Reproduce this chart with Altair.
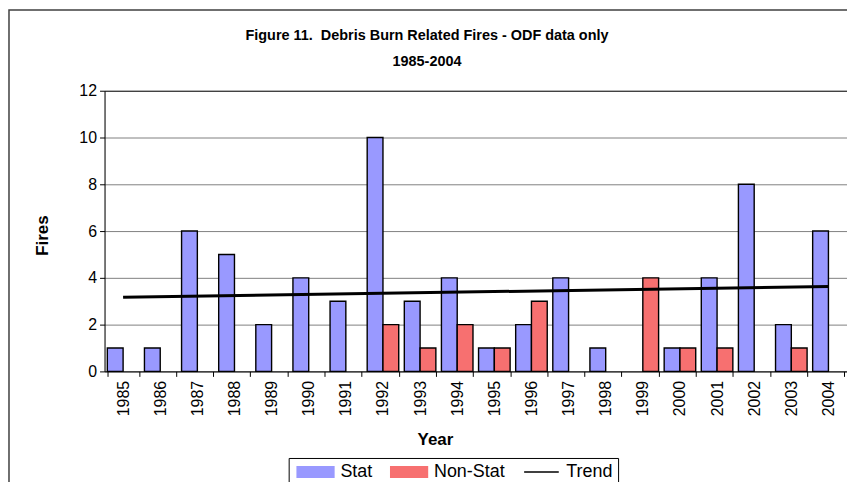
import altair as alt
import pandas as pd

years = list(range(1985, 2005))
stat = [1, 1, 6, 5, 2, 4, 3, 10, 3, 4, 1, 2, 4, 1, 0, 1, 4, 8, 2, 6]
nonstat = [0, 0, 0, 0, 0, 0, 0, 2, 1, 2, 1, 3, 0, 0, 4, 1, 1, 0, 1, 0]
series_names = ["Stat", "Non-Stat", "Trend"]
series_colors = ["#9999FF", "#F77070", "#000000"]
legend_paths = ["M-3.2,-1H3.2V1H-3.2Z", "M-3.2,-1H3.2V1H-3.2Z", "M-2.9,-0.12H2.9V0.12H-2.9Z"]
y_ticks = list(range(0, 13))
title_line1 = ["Figure 11.\u00a0 Debris Burn Related Fires - ODF data only"]
title_line2 = ["1985-2004"]

FONT = "Liberation Sans"

rows = []
for yr, s, n in zip(years, stat, nonstat):
    rows.append({"year": yr, "series": "Stat", "value": s})
    rows.append({"year": yr, "series": "Non-Stat", "value": n})
bars_df = pd.DataFrame(rows)
stat_df = pd.DataFrame({"year": years, "stat": stat})
legend_df = pd.DataFrame({"series": series_names})

fill_scale = alt.Scale(domain=series_names, range=series_colors)

x_axis = alt.Axis(
    title="Year", labelAngle=270, labelAlign="right", labelBaseline="middle",
    tickBand="extent", tickSize=5, labelPadding=4, labelFontSize=16, labelFont=FONT,
    labelColor="black", titleFont=FONT, titleFontSize=17, titleFontWeight="bold",
    titleX=332, titleY=68, titleBaseline="middle", titleColor="black",
    domainColor="black", tickColor="black", grid=False,
)
y_axis = alt.Axis(
    title="Fires", values=y_ticks,
    labelExpr="datum.value % 2 == 0 ? datum.label : ''",
    tickSize={"condition": {"test": "datum.value % 2 == 0", "value": 5}, "value": 4},
    gridColor={"condition": {"test": "datum.value == 12", "value": "black"}, "value": "#808080"},
    gridOpacity={"condition": {"test": "datum.value % 2 == 0", "value": 1}, "value": 0},
    grid=True, labelFontSize=16, labelFont=FONT, labelColor="black", labelPadding=3,
    titleFont=FONT, titleFontSize=17, titleFontWeight="bold", titleColor="black",
    titleX=-62, titleY=145, titleAngle=270, titleAlign="center", titleBaseline="middle",
    domainColor="black", tickColor="black",
)

legend_props = dict(
    orient="none", legendX=185, legendY=369, direction="horizontal", title=None,
    labelFont=FONT, labelFontSize=18, labelColor="black", strokeColor="black",
    fillColor="white", padding=5, columnPadding=14, symbolOffset=13, labelOffset=16,
    symbolStrokeColor="black", symbolStrokeWidth=1, symbolSize=144, symbolOpacity=1,
)

x_enc = alt.X("year:O", scale=alt.Scale(paddingInner=0.15, paddingOuter=0.075), axis=x_axis)

bars = alt.Chart(bars_df).transform_filter("datum.value > 0").mark_bar(
    stroke="black", strokeWidth=1.4
).encode(
    x=x_enc,
    xOffset=alt.XOffset("series:N", scale=alt.Scale(domain=["Stat", "Non-Stat"], paddingInner=0, paddingOuter=0)),
    y=alt.Y("value:Q", scale=alt.Scale(domain=[0, 12]), axis=y_axis),
    fill=alt.Fill("series:N", scale=fill_scale, legend=alt.Legend(**legend_props)),
)

trend = alt.Chart(stat_df).transform_regression("year", "stat", method="linear").mark_line(
    color="black", strokeWidth=3
).encode(
    x=alt.X("year:O"),
    y=alt.Y("stat:Q"),
)

# legend-only layer: its own marks sit outside the canvas
legend_layer = alt.Chart(legend_df).mark_point(filled=True, size=144).encode(
    fill=alt.Fill("series:N", scale=fill_scale, legend=alt.Legend(**legend_props)),
    shape=alt.Shape("series:N", scale=alt.Scale(domain=series_names, range=legend_paths),
                    legend=alt.Legend(**legend_props)),
    stroke=alt.value("black"),
    x=alt.value(-2000), y=alt.value(-2000),
)

t1 = alt.Chart(pd.DataFrame({"t": title_line1})).mark_text(
    font=FONT, fontSize=14.5, fontWeight="bold", color="black", align="center", baseline="middle"
).encode(text="t:N", x=alt.value(324), y=alt.value(-55))
t2 = alt.Chart(pd.DataFrame({"t": title_line2})).mark_text(
    font=FONT, fontSize=14.5, fontWeight="bold", color="black", align="center", baseline="middle"
).encode(text="t:N", x=alt.value(324), y=alt.value(-29))

frame_df = pd.DataFrame({"k": [0]})
frame = alt.Chart(frame_df).mark_rect(fill="transparent", stroke="#404040", strokeWidth=1.5).encode(
    x=alt.value(-96), x2=alt.value(900), y=alt.value(-81), y2=alt.value(500)
)

chart = alt.layer(bars, trend, legend_layer, t1, t2, frame).properties(
    width=746, height=282,
    autosize=alt.AutoSizeParams(type="none"),
    padding={"left": 97, "top": 82, "right": 0, "bottom": 110},
).configure_view(stroke="transparent").configure(background="white")

chart.save("out.html", embed_options={"renderer": "svg", "actions": False})
